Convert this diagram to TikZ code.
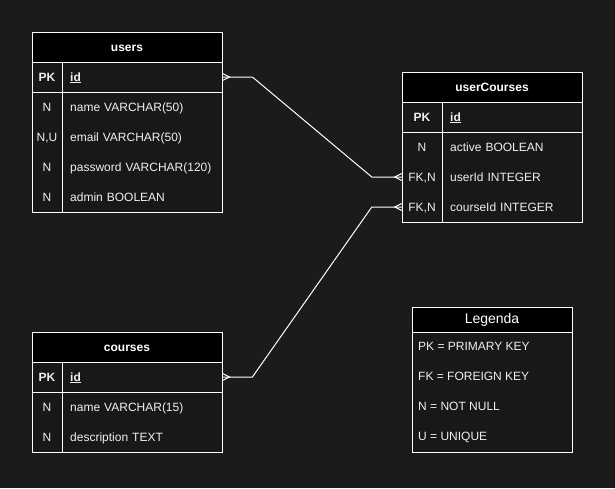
\documentclass[tikz,border=0pt]{standalone}
\usepackage{fontspec}
\setmainfont{Liberation Sans}
\definecolor{bg}{HTML}{1B1B1B}
\definecolor{body}{HTML}{181818}
\definecolor{fg}{HTML}{F0F0F0}
\begin{document}
\begin{tikzpicture}[x=1pt,y=-1pt,
  font=\fontsize{12}{14}\selectfont,
  tbl/.style={draw=white, line width=1pt, fill=body},
  hdr/.style={draw=white, line width=1pt, fill=black},
  rule/.style={draw=white, line width=1pt},
  conn/.style={draw=white, line width=1pt, line join=miter},
  title/.style={text=white, inner sep=0pt, text height=10pt, text depth=2pt, font=\fontsize{12}{14}\selectfont\bfseries},
  ltitle/.style={text=white, inner sep=0pt, font=\fontsize{14}{16}\selectfont},
  keycell/.style={text=fg, inner sep=0pt, text height=10pt, text depth=2pt, minimum height=30, minimum width=#1},
  field/.style={text=fg, inner xsep=8pt, inner ysep=0pt, text height=10pt, text depth=2pt, minimum height=30, text width=#1, align=left, anchor=west},
  legitem/.style={text=fg, inner sep=0pt, text height=10pt, text depth=2pt, anchor=west}
]
\useasboundingbox (0,0) rectangle (615,488);
\fill[bg] (0,0) rectangle (615,488);

% ---------- users ----------
\draw[tbl] (32,32) rectangle (222,212);
\draw[hdr] (32,32) rectangle (222,62);
\draw[rule] (32,92) -- (222,92);
\draw[rule] (62,62) -- (62,212);
\node[title] (users) at (127,47) {users};
\node[keycell=30] (u-kid) at (47,77) {\textbf{PK}};
\node[field=144pt] (u-id) at (62,77) {\textbf{\underline{id}}};
\node[keycell=30] (u-kname) at (47,107) {N};
\node[field=144pt] (u-name) at (62,107) {name VARCHAR(50)};
\node[keycell=30] (u-kemail) at (47,137) {N,U};
\node[field=144pt] (u-email) at (62,137) {email VARCHAR(50)};
\node[keycell=30] (u-kpass) at (47,167) {N};
\node[field=144pt] (u-pass) at (62,167) {password VARCHAR(120)};
\node[keycell=30] (u-kadmin) at (47,197) {N};
\node[field=144pt] (u-admin) at (62,197) {admin BOOLEAN};

% ---------- userCourses ----------
\draw[tbl] (402,72) rectangle (582,222);
\draw[hdr] (402,72) rectangle (582,102);
\draw[rule] (402,132) -- (582,132);
\draw[rule] (442,102) -- (442,222);
\node[title] (uc) at (492,87) {userCourses};
\node[keycell=40] (uc-kid) at (422,117) {\textbf{PK}};
\node[field=124pt] (uc-id) at (442,117) {\textbf{\underline{id}}};
\node[keycell=40] (uc-kactive) at (422,147) {N};
\node[field=124pt] (uc-active) at (442,147) {active BOOLEAN};
\node[keycell=40] (uc-kuser) at (422,177) {FK,N};
\node[field=124pt] (uc-user) at (442,177) {userId INTEGER};
\node[keycell=40] (uc-kcourse) at (422,207) {FK,N};
\node[field=124pt] (uc-course) at (442,207) {courseId INTEGER};

% ---------- courses ----------
\draw[tbl] (32,332) rectangle (222,452);
\draw[hdr] (32,332) rectangle (222,362);
\draw[rule] (32,392) -- (222,392);
\draw[rule] (62,362) -- (62,452);
\node[title] (courses) at (127,347) {courses};
\node[keycell=30] (c-kid) at (47,377) {\textbf{PK}};
\node[field=144pt] (c-id) at (62,377) {\textbf{\underline{id}}};
\node[keycell=30] (c-kname) at (47,407) {N};
\node[field=144pt] (c-name) at (62,407) {name VARCHAR(15)};
\node[keycell=30] (c-kdesc) at (47,437) {N};
\node[field=144pt] (c-desc) at (62,437) {description TEXT};

% ---------- Legenda ----------
\draw[tbl] (412,307) rectangle (572,452);
\draw[hdr] (412,307) rectangle (572,332);
\node[ltitle] (leg) at (492,320) {Legenda};
\node[legitem] (leg-pk) at (418,346) {PK = PRIMARY KEY};
\node[legitem] (leg-fk) at (418,376) {FK = FOREIGN KEY};
\node[legitem] (leg-n) at (418,406) {N = NOT NULL};
\node[legitem] (leg-u) at (418,436) {U = UNIQUE};

% ---------- connectors ----------
\draw[conn] (u-id.east) -- ++(30,0) -- ([xshift=-30pt]uc-kuser.west) -- (uc-kuser.west);
\draw[conn] (c-id.east) -- ++(30,0) -- ([xshift=-30pt]uc-kcourse.west) -- (uc-kcourse.west);
% crow's feet
\draw[conn] ([yshift=3.5pt]u-id.east) -- ([xshift=7pt]u-id.east) -- ([yshift=-3.5pt]u-id.east);
\draw[conn] ([yshift=3.5pt]c-id.east) -- ([xshift=7pt]c-id.east) -- ([yshift=-3.5pt]c-id.east);
\draw[conn] ([yshift=3.5pt]uc-kuser.west) -- ([xshift=-7pt]uc-kuser.west) -- ([yshift=-3.5pt]uc-kuser.west);
\draw[conn] ([yshift=3.5pt]uc-kcourse.west) -- ([xshift=-7pt]uc-kcourse.west) -- ([yshift=-3.5pt]uc-kcourse.west);
\end{tikzpicture}
\end{document}
